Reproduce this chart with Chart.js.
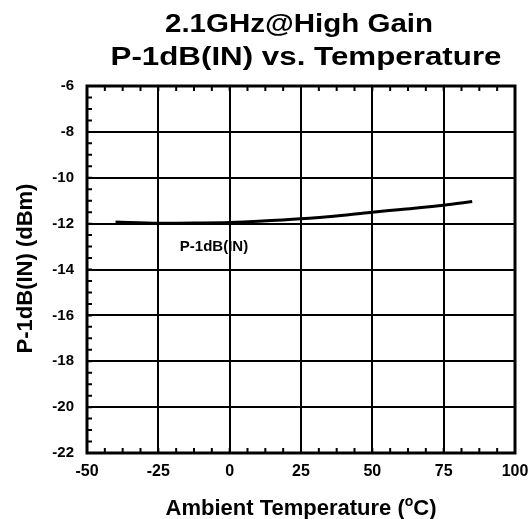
<!DOCTYPE html>
<html>
<head>
<meta charset="utf-8">
<script src="https://cdn.jsdelivr.net/npm/chart.js@4/dist/chart.umd.min.js"></script>
<style>
  html, body { margin: 0; padding: 0; background: #fff; }
  #wrap { width: 532px; height: 519px; }
</style>
</head>
<body>
<div id="wrap"><canvas id="chart" width="532" height="519"></canvas></div>
<script>
const titleLines = ['2.1GHz@High Gain', 'P-1dB(IN) vs. Temperature'];
const xTitle = 'Ambient Temperature (';
const yTitle = 'P-1dB(IN) (dBm)';
const seriesName = 'P-1dB(IN)';

const temps = [-40, -25, -10, 0, 10, 25, 40, 50, 60, 75, 85];
const p1dbIn = [-11.93, -11.98, -11.97, -11.95, -11.9, -11.79, -11.63, -11.5, -11.38, -11.2, -11.04];

const xTicks = [-50, -25, 0, 25, 50, 75, 100];
const yTicks = [-22, -20, -18, -16, -14, -12, -10, -8, -6];

const FONT = 'Arial, "Liberation Sans", sans-serif';

// text squeezed/stretched to a target width
function wideText(ctx, text, cx, y, width) {
  const w = ctx.measureText(text).width;
  ctx.save();
  ctx.translate(cx, y);
  ctx.scale(width / w, 1);
  ctx.textAlign = 'center';
  ctx.fillText(text, 0, 0);
  ctx.restore();
}

// titles, frame, minor ticks, series label
const decor = {
  id: 'decor',
  afterDraw(chart) {
    const ctx = chart.ctx;
    const a = chart.chartArea;
    const xs = chart.scales.x, ys = chart.scales.y;
    ctx.save();
    ctx.fillStyle = '#000';
    ctx.strokeStyle = '#000';

    // minor ticks
    ctx.lineWidth = 2;
    ctx.beginPath();
    for (let v = -50; v <= 100; v += 6.25) {
      const px = xs.getPixelForValue(v);
      ctx.moveTo(px, a.bottom); ctx.lineTo(px, a.bottom - 5);
      ctx.moveTo(px, a.top); ctx.lineTo(px, a.top + 5);
    }
    for (let v = -22; v <= -6; v += 0.5) {
      const py = ys.getPixelForValue(v);
      ctx.moveTo(a.left, py); ctx.lineTo(a.left + 5, py);
    }
    ctx.stroke();

    // frame
    ctx.lineWidth = 3;
    ctx.strokeRect(a.left, a.top, a.right - a.left, a.bottom - a.top);

    // chart title
    ctx.textBaseline = 'alphabetic';
    ctx.font = 'bold 26px ' + FONT;
    wideText(ctx, titleLines[0], 299, 32, 268);
    wideText(ctx, titleLines[1], 306, 65, 391);

    // x axis title with superscript o
    ctx.font = 'bold 22px ' + FONT;
    const w1 = ctx.measureText(xTitle).width;
    ctx.font = 'bold 14px ' + FONT;
    const w2 = ctx.measureText('o').width;
    ctx.font = 'bold 22px ' + FONT;
    const w3 = ctx.measureText('C)').width;
    const cx = (a.left + a.right) / 2;
    let sx = cx - (w1 + w2 + w3) / 2;
    ctx.textAlign = 'left';
    ctx.fillText(xTitle, sx, 515);
    ctx.font = 'bold 14px ' + FONT;
    ctx.fillText('o', sx + w1, 506);
    ctx.font = 'bold 22px ' + FONT;
    ctx.fillText('C)', sx + w1 + w2, 515);

    // y axis title
    ctx.save();
    ctx.translate(32, (a.top + a.bottom) / 2 - 1);
    ctx.rotate(-Math.PI / 2);
    ctx.textAlign = 'center';
    ctx.font = 'bold 22px ' + FONT;
    ctx.fillText(yTitle, 0, 0);
    ctx.restore();

    // series label
    ctx.textAlign = 'center';
    ctx.textBaseline = 'middle';
    ctx.font = 'bold 15px ' + FONT;
    ctx.fillText(seriesName, xs.getPixelForValue(-5.5), ys.getPixelForValue(-13.02));
    ctx.restore();
  }
};

new Chart(document.getElementById('chart'), {
  type: 'scatter',
  data: {
    datasets: [{
      label: seriesName,
      data: temps.map((t, i) => ({ x: t, y: p1dbIn[i] })),
      showLine: true,
      borderColor: '#000',
      borderWidth: 3,
      pointRadius: 0,
      tension: 0.3
    }]
  },
  options: {
    responsive: false,
    animation: false,
    layout: { padding: { top: 86, right: 17, left: 0, bottom: 0 } },
    plugins: {
      legend: { display: false },
      title: { display: false },
      tooltip: { enabled: false }
    },
    scales: {
      x: {
        type: 'linear',
        min: -50, max: 100,
        afterBuildTicks: s => { s.ticks = xTicks.map(v => ({ value: v })); },
        afterFit: s => { s.height = 66; s.paddingLeft = 0; s.paddingRight = 0; },
        grid: { color: '#000', lineWidth: 2, drawTicks: false },
        border: { display: false },
        ticks: {
          color: '#000', padding: 9,
          font: { family: FONT, size: 16, weight: 'bold' },
          maxRotation: 0
        }
      },
      y: {
        type: 'linear',
        min: -22, max: -6,
        afterBuildTicks: s => { s.ticks = yTicks.map(v => ({ value: v })); },
        afterFit: s => { s.width = 87; s.paddingTop = 0; s.paddingBottom = 0; },
        grid: { color: '#000', lineWidth: 2, drawTicks: false },
        border: { display: false },
        ticks: {
          color: '#000', padding: 13,
          font: { family: FONT, size: 15, weight: 'bold' }
        }
      }
    }
  },
  plugins: [decor]
});
</script>
</body>
</html>
